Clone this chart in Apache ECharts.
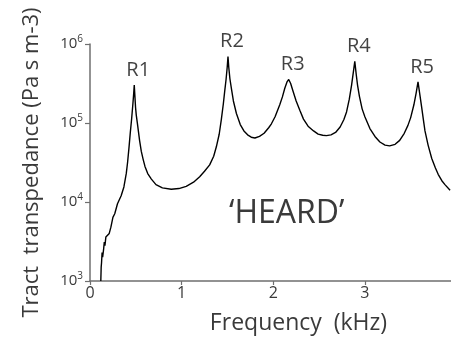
<!DOCTYPE html>
<html>
<head>
<meta charset="utf-8">
<script src="https://cdn.jsdelivr.net/npm/echarts@6/dist/echarts.min.js"></script>
<style>
  html, body { margin: 0; padding: 0; background: #fff; }
  #chart { width: 451px; height: 341px; }
</style>
</head>
<body>
<div id="chart"></div>
<script>
// frequency (kHz) and tract transpedance (Pa s m-3)
const freqKHz = [
  0.118, 0.122, 0.126, 0.132, 0.138, 0.148, 0.156, 0.163, 0.173, 0.19, 0.21, 0.228,
  0.25, 0.27, 0.3, 0.34, 0.37, 0.396, 0.41, 0.425, 0.44, 0.455, 0.468, 0.476, 0.483,
  0.49, 0.497, 0.505, 0.519, 0.541, 0.56, 0.58, 0.6, 0.63, 0.67, 0.72, 0.79, 0.887,
  0.97, 1.05, 1.13, 1.197, 1.25, 1.306, 1.35, 1.379, 1.41, 1.434, 1.455, 1.47,
  1.485, 1.497, 1.506, 1.515, 1.527, 1.543, 1.565, 1.598, 1.64, 1.68, 1.72, 1.76,
  1.8, 1.85, 1.9, 1.95, 1.98, 2.02, 2.071, 2.1, 2.126, 2.15, 2.169, 2.19,
  2.217, 2.25, 2.29, 2.33, 2.38, 2.44, 2.49, 2.54, 2.58, 2.63, 2.68, 2.73,
  2.77, 2.8, 2.83, 2.855, 2.875, 2.89, 2.905, 2.92, 2.94, 2.97, 3.0, 3.055,
  3.11, 3.164, 3.22, 3.27, 3.33, 3.38, 3.43, 3.47, 3.5, 3.535, 3.56, 3.58,
  3.6, 3.62, 3.64, 3.656, 3.69, 3.73, 3.77, 3.8, 3.84, 3.874, 3.93
];
const transpedance = [
  1000, 1500, 1700, 2300, 2000, 2500, 3100, 2800, 3600, 3700, 4000, 4800,
  6400, 7100, 9500, 12000, 15500, 23000, 31600, 48000, 76000, 115000, 174000, 229000, 302000,
  219000, 158000, 126000, 95500, 60300, 43700, 34700, 28200, 22900, 19500, 16600, 15100, 14500,
  14800, 15800, 17800, 20900, 24500, 29500, 38000, 50000, 72000, 112000, 174000, 251000,
  355000, 501000, 692000, 501000, 363000, 275000, 190000, 132000, 95500, 79400, 70800, 66100,
  64600, 67600, 74100, 87100, 97700, 120000, 170000, 214000, 275000, 331000, 355000, 316000,
  251000, 190000, 145000, 112000, 91200, 79400, 72400, 70000, 69200, 70800, 75900, 89100,
  110000, 138000, 200000, 302000, 447000, 603000, 417000, 302000, 219000, 151000, 120000, 85100,
  67600, 57500, 52500, 51300, 53700, 60300, 74100, 93300, 117000, 170000, 240000, 331000,
  229000, 158000, 107000, 79400, 52500, 35500, 26900, 22400, 18600, 16600, 14100
];

// resonance labels
const resNames = ['R1', 'R2', 'R3', 'R4', 'R5'];
const resFreq = [0.483, 1.506, 2.169, 2.89, 3.58];
const resPeak = [302000, 692000, 355000, 603000, 331000];

const xTicks = [0, 1, 2, 3];
const yTicks = [1000, 10000, 100000, 1000000];

const fontFamily = '"Open Sans", "DejaVu Sans", sans-serif';
const axisGray = '#6f6f6f';
const textGray = '#3a3a3a';

const chart = echarts.init(document.getElementById('chart'));

chart.setOption({
  animation: false,
  grid: { left: 90, right: 0, top: 44, bottom: 60 },
  xAxis: {
    type: 'value',
    min: 0,
    max: 3.94,
    interval: 1,
    name: 'Frequency  (kHz)',
    nameLocation: 'middle',
    nameGap: 31,
    nameTextStyle: { fontFamily, fontSize: 23, color: textGray, padding: [0, 0, 0, 56] },
    axisLine: { show: true, onZero: false, lineStyle: { color: axisGray, width: 1.5 } },
    axisTick: { show: true, length: 4, customValues: xTicks, lineStyle: { color: axisGray, width: 1.2 } },
    axisLabel: { customValues: xTicks, fontFamily, fontSize: 16, color: textGray, margin: 4 },
    splitLine: { show: false }
  },
  yAxis: {
    type: 'log',
    logBase: 10,
    min: 1000,
    max: 1000000,
    name: 'Tract  transpedance (Pa s m-3)',
    nameLocation: 'middle',
    nameGap: 47,
    nameTextStyle: { fontFamily, fontSize: 22, color: textGray },
    axisLine: { show: true, lineStyle: { color: axisGray, width: 1.5 } },
    axisTick: { show: true, length: 5, customValues: yTicks, lineStyle: { color: axisGray, width: 1.2 } },
    axisLabel: {
      customValues: yTicks,
      margin: 7,
      formatter: (v) => '{b|10}{s|' + Math.round(Math.log10(v)) + '}',
      rich: {
        b: { fontFamily, fontSize: 15, color: textGray },
        s: { fontFamily, fontSize: 10, color: textGray, padding: [0, 0, 9, 0] }
      }
    },
    splitLine: { show: false }
  },
  graphic: [
    {
      type: 'text',
      left: 229,
      top: 198,
      style: { text: '\u2018HEARD\u2019', fontFamily, fontSize: 32, fill: textGray }
    }
  ],
  series: [
    {
      type: 'line',
      data: freqKHz.map((f, i) => [f, transpedance[i]]),
      showSymbol: false,
      symbol: 'none',
      lineStyle: { color: '#000', width: 1.4 },
      clip: true
    },
    {
      type: 'scatter',
      symbolSize: 0,
      data: resNames.map((n, i) => ({ name: n, value: [resFreq[i], resPeak[i]] })),
      label: {
        show: true,
        formatter: '{b}',
        position: 'top',
        distance: 5,
        offset: [4, 0],
        fontFamily,
        fontSize: 20,
        color: '#111'
      }
    }
  ]
});
</script>
</body>
</html>
